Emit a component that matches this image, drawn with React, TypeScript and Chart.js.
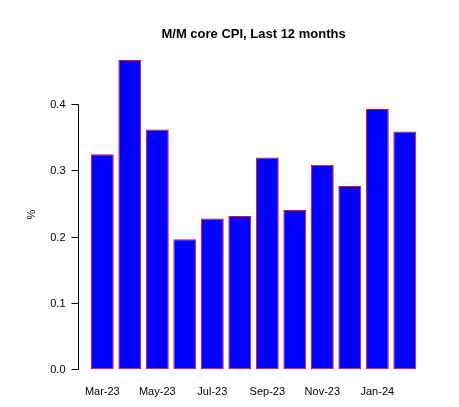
import React, { useEffect, useRef } from "react";
import { Chart, registerables } from "chart.js";

Chart.register(...registerables);

const categories = [
  "Mar-23", "Apr-23", "May-23", "Jun-23", "Jul-23", "Aug-23",
  "Sep-23", "Oct-23", "Nov-23", "Dec-23", "Jan-24", "Feb-24",
];
const coreCpiMoM = [0.324, 0.466, 0.361, 0.196, 0.227, 0.231, 0.319, 0.24, 0.308, 0.276, 0.392, 0.358];
const yTickValues = [0, 0.1, 0.2, 0.3, 0.4];
const titleText = "M/M core CPI, Last 12 months";
const yAxisTitle = "%";

const FONT = "'Liberation Sans', Arial, sans-serif";

const rAxesPlugin = {
  id: "rAxes",
  afterDraw(chart: any) {
    const { ctx, chartArea, scales } = chart;
    const xs = scales.x;
    const ys = scales.y;
    const slot = xs.getPixelForValue(1) - xs.getPixelForValue(0);
    const axisX = chartArea.left - 0.384 * slot;
    const rightX = chartArea.right + 0.384 * slot;
    ctx.save();
    ctx.strokeStyle = "#000";
    ctx.fillStyle = "#000";
    ctx.lineWidth = 1;
    // y axis line
    const y0 = ys.getPixelForValue(yTickValues[0]);
    const y1 = ys.getPixelForValue(yTickValues[yTickValues.length - 1]);
    const ax = Math.round(axisX) + 0.5;
    ctx.beginPath();
    ctx.moveTo(ax, Math.round(y0) + 0.5);
    ctx.lineTo(ax, Math.round(y1) + 0.5);
    ctx.stroke();
    ctx.font = `11px ${FONT}`;
    ctx.textAlign = "right";
    ctx.textBaseline = "middle";
    yTickValues.forEach((v) => {
      const py = Math.round(ys.getPixelForValue(v)) + 0.5;
      ctx.beginPath();
      ctx.moveTo(ax - 7, py);
      ctx.lineTo(ax, py);
      ctx.stroke();
      ctx.fillText(v.toFixed(1), ax - 13, py);
    });
    // x labels (every other, as R drops overlapping ones)
    ctx.textAlign = "center";
    categories.forEach((c, i) => {
      if (i % 2 !== 0) return;
      ctx.fillText(c, xs.getPixelForValue(i), chartArea.bottom + 10);
    });
    // title
    ctx.font = `bold 13px ${FONT}`;
    ctx.fillText(titleText, (axisX + rightX) / 2, 34);
    // y title
    ctx.font = `11px ${FONT}`;
    ctx.translate(32, (chartArea.top + chartArea.bottom) / 2);
    ctx.rotate(-Math.PI / 2);
    ctx.fillText(yAxisTitle, 0, 0);
    ctx.restore();
  },
};

export default function App() {
  const ref = useRef<HTMLCanvasElement | null>(null);
  useEffect(() => {
    document.body.style.margin = "0";
    if (!ref.current) return;
    const chart = new Chart(ref.current, {
      type: "bar",
      data: {
        labels: categories,
        datasets: [
          {
            data: coreCpiMoM,
            backgroundColor: "#0000FF",
            borderColor: "#FF0000",
            borderWidth: 1,
            borderSkipped: false,
            barPercentage: 1 / 1.2,
            categoryPercentage: 1,
          },
        ],
      },
      options: {
        animation: false,
        responsive: true,
        maintainAspectRatio: false,
        layout: { padding: { left: 88.55, right: 40.45, top: 47.3, bottom: 25.3 } },
        plugins: { legend: { display: false }, tooltip: { enabled: false }, title: { display: false } },
        scales: {
          x: { display: false, offset: true },
          y: { display: false, min: -0.0187, max: 0.485 },
        },
      },
      plugins: [rAxesPlugin],
    });
    return () => chart.destroy();
  }, []);
  return (
    <div style={{ position: "absolute", left: 0, top: 0, width: 459, height: 407, background: "#fff" }}>
      <canvas ref={ref} />
    </div>
  );
}
